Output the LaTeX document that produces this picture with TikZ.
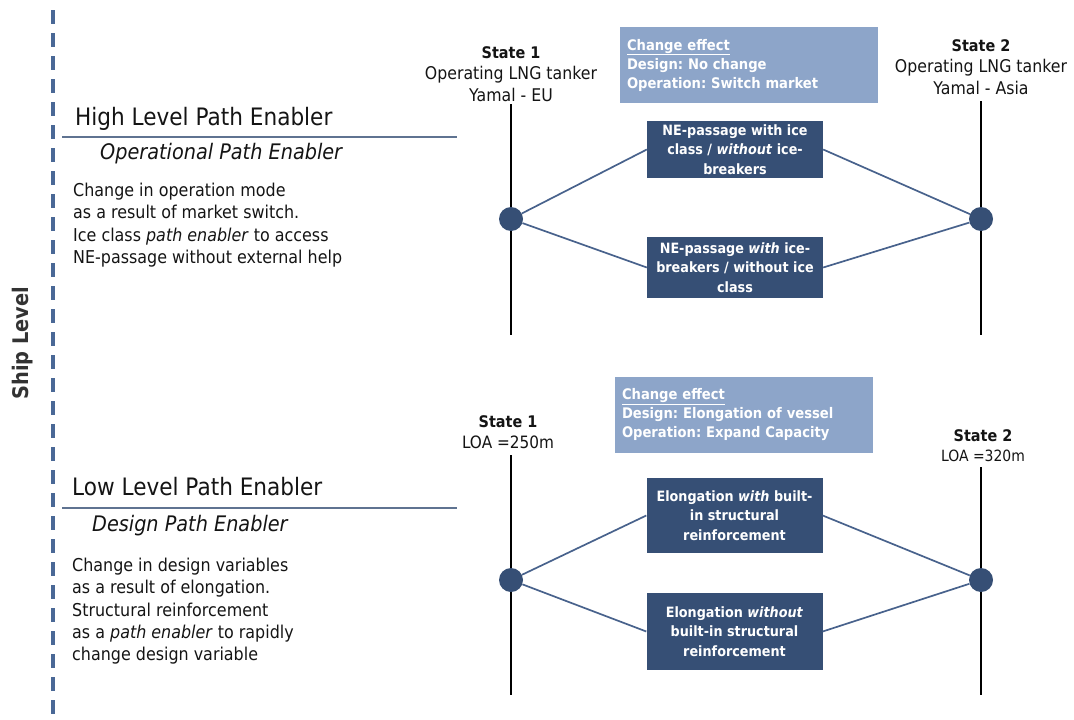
\documentclass[tikz,border=0pt]{standalone}
\usepackage{fontspec}
\setmainfont[FakeStretch=0.9]{DejaVu Sans}
\frenchspacing
\definecolor{boxdark}{RGB}{54,79,117}
\definecolor{boxlight}{RGB}{141,165,201}
\definecolor{linkblue}{RGB}{72,98,140}
\definecolor{rulegray}{RGB}{95,115,145}
\definecolor{dashblue}{RGB}{74,104,150}
\definecolor{txt}{RGB}{20,20,20}
\begin{document}
\begin{tikzpicture}[x=1pt,y=-1pt,
  every node/.style={text=txt},
  heading/.style={font=\fontsize{24}{28}\selectfont, inner sep=0, anchor=base west},
  subhead/.style={font=\fontsize{21.4}{25}\selectfont\itshape, inner sep=0, anchor=base west},
  para/.style={font=\fontsize{17.7}{22.3}\selectfont, align=left, inner sep=0, anchor=north west},
  statelbl/.style={font=\fontsize{17.5}{21.5}\selectfont, align=center, inner sep=0},
  pathbox/.style={fill=boxdark, text=white, font=\bfseries\fontsize{14.2}{19.5}\selectfont,
    align=center, inner sep=0, minimum width=176},
  effectbox/.style={fill=boxlight, text=white, font=\bfseries\fontsize{14.6}{19}\selectfont,
    align=left, inner xsep=7, inner ysep=0, text width=244, minimum height=76},
  dot/.style={circle, fill=boxdark, minimum size=24, inner sep=0},
  timeline/.style={black, line width=1.4},
  link/.style={linkblue, line width=1.7},
  rule/.style={rulegray, line width=1.5}
]
\useasboundingbox (0,0) rectangle (1074,720);

% ship-level axis
\coordinate (axtop) at (53,10);
\coordinate (axbot) at (53,720);
\draw[dashblue, line width=4, dash pattern=on 14 off 9] (axtop) -- (axbot);
\node[rotate=90, font=\bfseries\fontsize{21.5}{25}\selectfont, text=black!80] (ship) at (23,343) {Ship Level};

% ---------- high level path enabler ----------
\node[heading] (hhead) at (75,125) {High Level Path Enabler};
\coordinate (hruleA) at (62,137);
\coordinate (hruleB) at (457,137);
\draw[rule] (hruleA) -- (hruleB);
\node[subhead] (hsub) at (100,159) {Operational Path Enabler};
\node[para] (htext) at (73,183) {Change in operation mode\\
as a result of market switch.\\
Ice class \textit{path enabler} to access\\
NE-passage without external help};

% timelines
\coordinate (u1top) at (511,104);
\coordinate (u1bot) at (511,335);
\coordinate (u2top) at (981,101);
\coordinate (u2bot) at (981,335);
\draw[timeline] (u1top) -- (u1bot);
\draw[timeline] (u2top) -- (u2bot);

\node[statelbl] (us1) at (511,74) {{\bfseries\fontsize{16}{21.5}\selectfont State 1}\\Operating LNG tanker\\Yamal - EU};
\node[statelbl] (us2) at (981,67) {{\bfseries\fontsize{16}{21.5}\selectfont State 2}\\Operating LNG tanker\\Yamal - Asia};

\node[effectbox] (ueff) at (749,65) {\underline{Change effect}\\Design: No change\\Operation: Switch market};

\node[pathbox, minimum height=57] (ub1) at (735,149.5) {NE-passage with ice\\class / \textit{without} ice-\\breakers};
\node[pathbox, minimum height=61] (ub2) at (735,267.5) {NE-passage \textit{with} ice-\\breakers / without ice\\class};

\node[dot] (ud1) at (511,219) {};
\node[dot] (ud2) at (981,219) {};

\draw[link] (ud1) -- (ub1.west);
\draw[link] (ud1) -- (ub2.west);
\draw[link] (ub1.east) -- (ud2);
\draw[link] (ub2.east) -- (ud2);

% ---------- low level path enabler ----------
\node[heading] (lhead) at (72,495) {Low Level Path Enabler};
\coordinate (lruleA) at (62,508);
\coordinate (lruleB) at (457,508);
\draw[rule] (lruleA) -- (lruleB);
\node[subhead] (lsub) at (92,531) {Design Path Enabler};
\node[para] (ltext) at (72,558) {Change in design variables\\
as a result of elongation.\\
Structural reinforcement\\
as a \textit{path enabler} to rapidly\\
change design variable};

\coordinate (l1top) at (511,455);
\coordinate (l1bot) at (511,695);
\coordinate (l2top) at (981,467);
\coordinate (l2bot) at (981,695);
\draw[timeline] (l1top) -- (l1bot);
\draw[timeline] (l2top) -- (l2bot);

\node[statelbl, font=\fontsize{17}{21}\selectfont] (ls1) at (508,432) {{\bfseries\fontsize{16}{21}\selectfont State 1}\\LOA =250m};
\node[statelbl, font=\fontsize{15.5}{20}\selectfont] (ls2) at (983,446) {{\bfseries\fontsize{16}{20}\selectfont State 2}\\LOA =320m};

\node[effectbox] (leff) at (744,415) {\underline{Change effect}\\Design: Elongation of vessel\\Operation: Expand Capacity};

\node[pathbox, minimum height=75] (lb1) at (734.5,515.5) {Elongation \textit{with} built-\\in structural\\reinforcement};
\node[pathbox, minimum height=77] (lb2) at (734.5,631.5) {Elongation \textit{without}\\built-in structural\\reinforcement};

\node[dot] (ld1) at (511,580) {};
\node[dot] (ld2) at (981,580) {};

\draw[link] (ld1) -- (lb1.west);
\draw[link] (ld1) -- (lb2.west);
\draw[link] (lb1.east) -- (ld2);
\draw[link] (lb2.east) -- (ld2);
\end{tikzpicture}
\end{document}
